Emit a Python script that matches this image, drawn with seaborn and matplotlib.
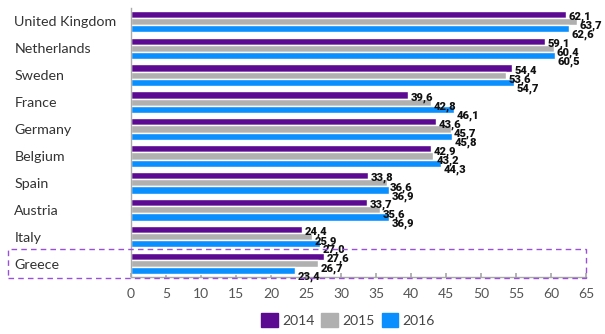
import matplotlib
matplotlib.use("Agg")
import matplotlib.pyplot as plt
import matplotlib.patches as mpatches
import seaborn as sns
import pandas as pd

countries = ["United Kingdom", "Netherlands", "Sweden", "France", "Germany",
             "Belgium", "Spain", "Austria", "Italy", "Greece"]
years = ["2014", "2015", "2016"]
v2014 = [62.1, 59.1, 54.4, 39.6, 43.6, 42.9, 33.8, 33.7, 24.4, 27.6]
v2015 = [63.7, 60.4, 53.6, 42.8, 45.7, 43.2, 36.6, 35.6, 25.9, 26.7]
v2016 = [62.6, 60.5, 54.7, 46.1, 45.8, 44.3, 36.9, 36.9, 27.0, 23.4]
xticks = list(range(0, 70, 5))

colors = {"2014": "#5c0a91", "2015": "#b0b0b0", "2016": "#0a8fff"}

rows = []
for yr, vals in zip(years, [v2014, v2015, v2016]):
    for c, v in zip(countries, vals):
        rows.append({"country": c, "year": yr, "value": v})
df = pd.DataFrame(rows)

sns.set_theme(style="white")
plt.rcParams["font.family"] = ["Lato", "DejaVu Sans"]

fig = plt.figure(figsize=(6.05, 3.34), dpi=100)
ax = fig.add_axes([131 / 605, 1 - 277 / 334, (586 - 131) / 605, (277 - 8) / 334])

sns.barplot(data=df, y="country", x="value", hue="year", order=countries,
            hue_order=years, palette=colors, orient="h", width=0.8,
            saturation=1, legend=False, ax=ax)

# value labels (decimal comma), stepped slightly downward per series
drops = [-1.8, -3.4, -4.6]
for cont, vals, dy in zip(ax.containers, [v2014, v2015, v2016], drops):
    for patch, v in zip(cont.patches, vals):
        yc = patch.get_y() + patch.get_height() / 2
        ax.annotate(f"{v:.1f}".replace(".", ","), xy=(patch.get_width(), yc),
                    xytext=(2, dy), textcoords="offset points",
                    ha="left", va="center", fontsize=8, fontweight="heavy",
                    color="#111111", family=["Roboto", "DejaVu Sans"])

ax.set_xlim(0, 65)
ax.set_ylim(9.5, -0.5)
ax.set_xticks(xticks)
ax.set_xticklabels([str(t) for t in xticks])
ax.set_xlabel("")
ax.set_ylabel("")

for s in ["top", "right"]:
    ax.spines[s].set_visible(False)
for s in ["left", "bottom"]:
    ax.spines[s].set_color("#aaaaaa")
    ax.spines[s].set_linewidth(1.0)

ax.tick_params(axis="x", direction="in", length=3, color="#aaaaaa",
               labelsize=10, labelcolor="#555555", pad=8, bottom=True)
ax.tick_params(axis="y", length=0, labelsize=10.3, labelcolor="#333333", pad=84)
for lbl in ax.get_yticklabels():
    lbl.set_ha("left")

# dashed highlight around Greece
box = mpatches.Rectangle((8 / 605, 1 - 278 / 334), (586 - 8) / 605, (278 - 249) / 334,
                         transform=fig.transFigure, fill=False,
                         edgecolor="#9a4fdc", linestyle=(0, (4, 3)), linewidth=1.0,
                         clip_on=False)
fig.patches.append(box)

handles = [mpatches.Patch(color=colors[y], label=y) for y in years]
fig.legend(handles=handles, loc="center", bbox_to_anchor=(348 / 605, 1 - 320 / 334),
           ncol=3, frameon=False, fontsize=10, handlelength=1.2, handleheight=1.2,
           handletextpad=0.3, columnspacing=0.5, labelcolor="#444444")

fig.savefig("out.png", dpi=100)
